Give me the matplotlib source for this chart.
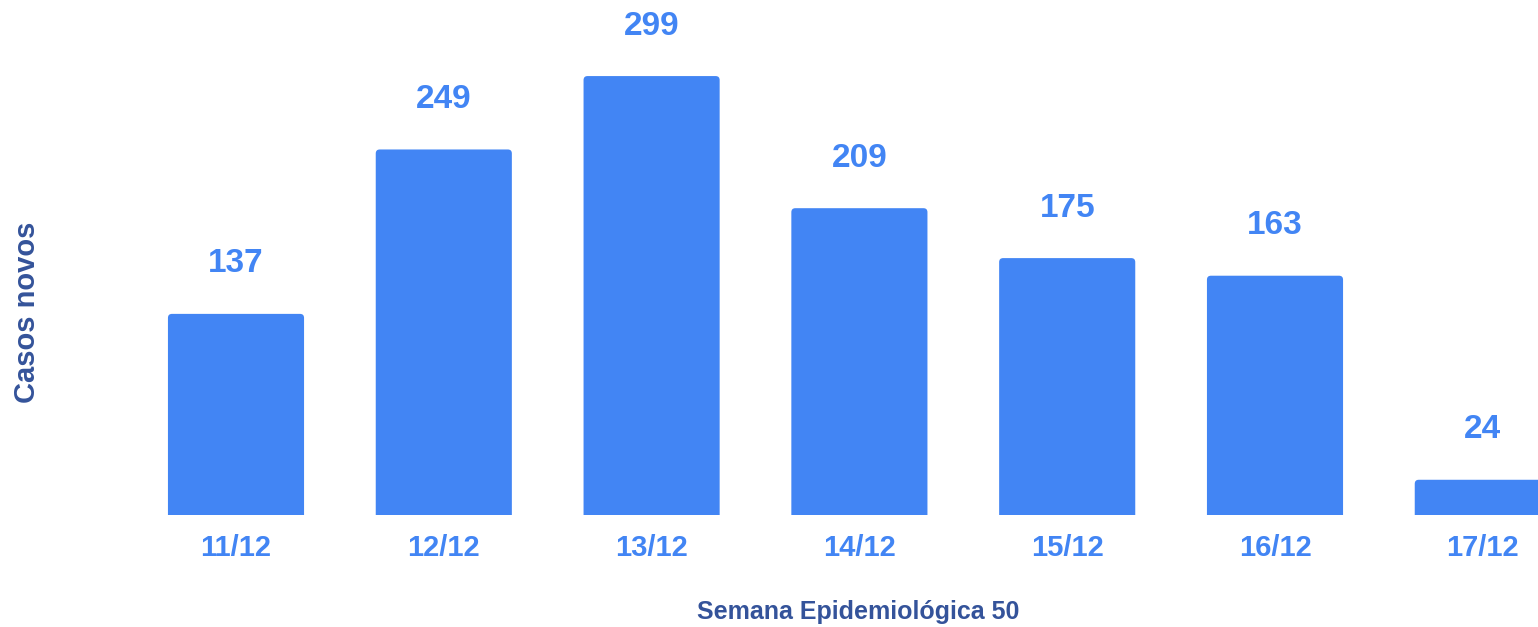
import matplotlib.pyplot as plt
from matplotlib.patches import FancyBboxPatch

# daily new cases, epi week 50
dias = ['11/12', '12/12', '13/12', '14/12', '15/12', '16/12', '17/12']
casos = [137, 249, 299, 209, 175, 163, 24]

azul = '#4285F4'
azul_escuro = '#34539A'

plt.rcParams['font.family'] = ['Liberation Sans', 'DejaVu Sans']
plt.rcParams['font.weight'] = 'bold'

fig = plt.figure(figsize=[15.38, 6.27], dpi=100)
ax = fig.add_axes([0, 112 / 627, 1, 515 / 627])

px_x = 207.8          # pixels per category
px_y = 1.468          # pixels per case
largura = 0.655
xs = list(range(len(dias)))

bars = ax.bar(xs, casos, width=largura, color=azul, alpha=0)
for b in bars:
    x0, w, h = b.get_x(), b.get_width(), b.get_height()
    # start slightly below zero so bottom corners get clipped (square)
    p = FancyBboxPatch((x0, -5), w, h + 5,
                       boxstyle='round,pad=0,rounding_size=%f' % (4 / px_x),
                       mutation_aspect=px_x / px_y,
                       facecolor=azul, edgecolor='none', clip_on=True)
    ax.add_patch(p)

for x, v in zip(xs, casos):
    ax.text(x, v + 50 / px_y, str(v), ha='center', va='center',
            fontsize=24, fontweight='bold', color=azul)

ax.set_xlim(-236 / px_x, (1538 - 236) / px_x)
ax.set_ylim(0, 515 / px_y)
ax.set_xticks(xs)
ax.set_xticklabels(dias, fontsize=21, fontweight='bold', color=azul)
ax.tick_params(axis='x', length=0, pad=14)
ax.set_yticks([])
for s in ax.spines.values():
    s.set_visible(False)

fig.text(858 / 1538, 1 - 612 / 627, 'Semana Epidemiológica 50', ha='center', va='center',
         fontsize=18, fontweight='bold', color=azul_escuro)
fig.text(27 / 1538, 1 - 312 / 627, 'Casos novos', ha='center', va='center', rotation=90,
         fontsize=21, fontweight='bold', color=azul_escuro)

plt.savefig('out.png', dpi=100)
